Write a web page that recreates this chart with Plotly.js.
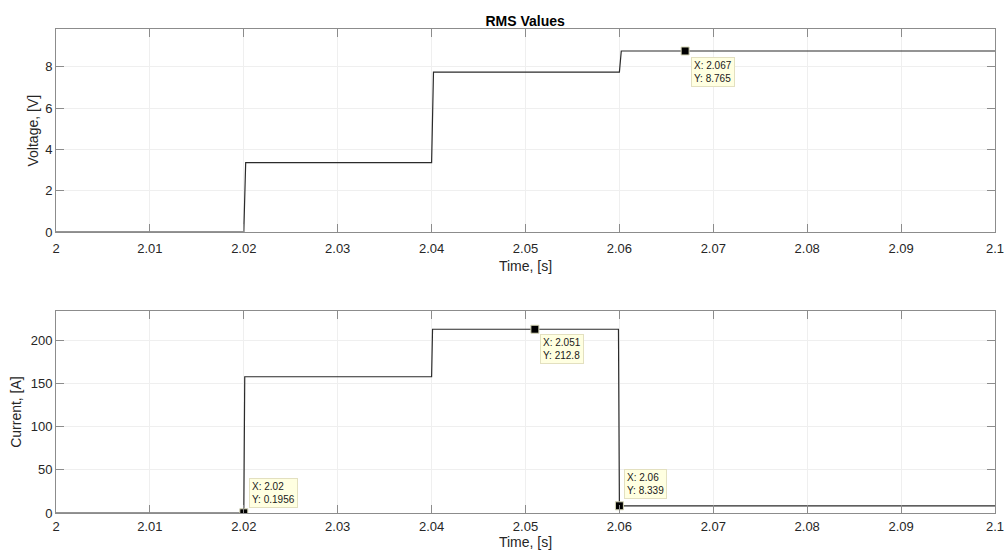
<!DOCTYPE html>
<html>
<head>
<meta charset="utf-8">
<script src="https://cdn.plot.ly/plotly-3.0.1.min.js"></script>
<style>html,body{margin:0;padding:0;background:#fff;}#chart{width:1007px;height:555px;}</style>
</head>
<body>
<div id="chart"></div>
<script>
// Voltage RMS samples
const timeV   = [2.0000, 2.0200, 2.0202, 2.0400, 2.0402, 2.0600, 2.0602, 2.1000];
const voltage = [0, 0, 3.36, 3.36, 7.74, 7.74, 8.765, 8.765];
// Current RMS samples
const timeI   = [2.0000, 2.0199, 2.0200, 2.0201, 2.0400, 2.0401, 2.0599, 2.0600, 2.1000];
const current = [0, 0, 0.1956, 157.8, 157.8, 212.8, 212.8, 8.339, 8.339];
// Data tips
const tipVX = [2.067];
const tipVY = [8.765];
const tipIX = [2.02, 2.051, 2.06];
const tipIY = [0.1956, 212.8, 8.339];
const xTicks = [2, 2.01, 2.02, 2.03, 2.04, 2.05, 2.06, 2.07, 2.08, 2.09, 2.1];
const xTickText = ['2','2.01','2.02','2.03','2.04','2.05','2.06','2.07','2.08','2.09','2.1'];
const vTicks = [0, 2, 4, 6, 8];
const iTicks = [0, 50, 100, 150, 200];

const lineCol = '#2b2b2b';
const font = 'Liberation Sans, Arial, sans-serif';

const traces = [
  {x: timeV, y: voltage, xaxis: 'x', yaxis: 'y', mode: 'lines', line: {color: lineCol, width: 1.2}, hoverinfo: 'skip'},
  {x: timeI, y: current, xaxis: 'x2', yaxis: 'y2', mode: 'lines', line: {color: lineCol, width: 1.2}, hoverinfo: 'skip'},
  {x: tipVX, y: tipVY, xaxis: 'x', yaxis: 'y', mode: 'markers', marker: {symbol: 'square', size: 8, color: '#000', line: {color: '#d8d8b8', width: 1}}, hoverinfo: 'skip'},
  {x: tipIX, y: tipIY, xaxis: 'x2', yaxis: 'y2', mode: 'markers', marker: {symbol: 'square', size: 8, color: '#000', line: {color: '#d8d8b8', width: 1}}, hoverinfo: 'skip'}
];

function tip(xr, yr, x, y, ax, ay, yanchor) {
  return {
    xref: xr, yref: yr, x: x, y: y,
    text: 'X: ' + x + '<br>Y: ' + y,
    showarrow: true, arrowcolor: 'rgba(0,0,0,0)', arrowwidth: 0.1,
    ax: ax, ay: ay, xanchor: 'left', yanchor: yanchor, align: 'left',
    bgcolor: '#ffffe1', bordercolor: '#e3e0c0', borderwidth: 1, borderpad: 2,
    font: {family: font, size: 10, color: '#1a1a1a'}
  };
}

function ytitle(text, xpx, yref) {
  return {
    xref: 'paper', yref: yref, x: (xpx - 56) / 939, y: 0.5,
    text: text, textangle: -90, showarrow: false,
    xanchor: 'center', yanchor: 'middle',
    font: {family: font, size: 14, color: '#262626'}
  };
}

const axCommon = {
  showline: true, linecolor: '#8c8c8c', linewidth: 1, mirror: 'ticks',
  ticks: 'inside', ticklen: 8, tickcolor: '#8c8c8c', tickwidth: 1,
  showgrid: true, gridcolor: '#efefef', gridwidth: 1, zeroline: false,
  tickfont: {family: font, size: 13, color: '#262626'}
};

const layout = {
  width: 1007, height: 555,
  paper_bgcolor: '#fff', plot_bgcolor: '#fff',
  margin: {l: 56, r: 12, t: 29, b: 42},
  showlegend: false,
  title: {text: '<b>RMS Values</b>', x: 0.5215, xanchor: 'center', y: 0.962, yanchor: 'middle',
          font: {family: font, size: 14, color: '#000'}},
  xaxis: Object.assign({}, axCommon, {domain: [0, 1], anchor: 'y', range: [2, 2.1],
    tickvals: xTicks, ticktext: xTickText, ticklabelstandoff: 4,
    title: {text: 'Time, [s]', standoff: 6, font: {family: font, size: 14, color: '#262626'}}}),
  yaxis: Object.assign({}, axCommon, {domain: [0.5806, 1], anchor: 'x', range: [0, 9.83],
    tickvals: vTicks, ticklabelstandoff: 0}),
  xaxis2: Object.assign({}, axCommon, {domain: [0, 1], anchor: 'y2', range: [2, 2.1],
    tickvals: xTicks, ticktext: xTickText, ticklabelstandoff: 1,
    title: {text: 'Time, [s]', standoff: 2, font: {family: font, size: 14, color: '#262626'}}}),
  yaxis2: Object.assign({}, axCommon, {domain: [0, 0.418], anchor: 'x2', range: [0, 234.3],
    tickvals: iTicks, ticklabelstandoff: 0}),
  annotations: [
    ytitle('Voltage, [V]', 33, 'y domain'),
    ytitle('Current, [A]', 16, 'y2 domain'),
    tip('x', 'y', tipVX[0], tipVY[0], 6, 6, 'top'),
    tip('x2', 'y2', tipIX[1], tipIY[1], 5, 5, 'top'),
    tip('x2', 'y2', tipIX[0], tipIY[0], 5, -5, 'bottom'),
    tip('x2', 'y2', tipIX[2], tipIY[2], 5, -7, 'bottom')
  ]
};

Plotly.newPlot('chart', traces, layout, {displayModeBar: false, staticPlot: true});
</script>
</body>
</html>
